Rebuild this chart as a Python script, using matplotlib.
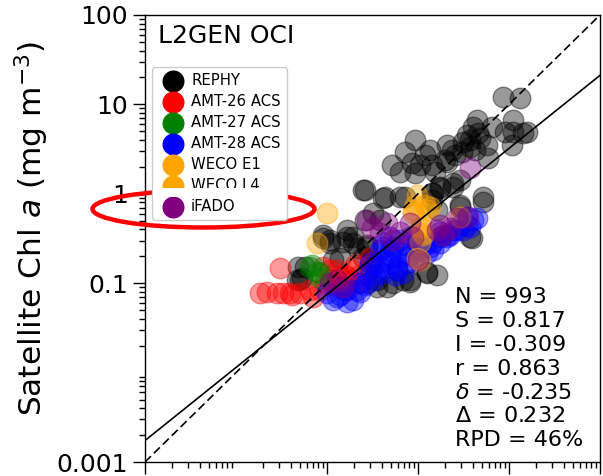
import math
import matplotlib
matplotlib.use("Agg")
import matplotlib.pyplot as plt
from matplotlib.patches import Ellipse, Rectangle

# ---------------- data (mg m^-3) ----------------
rephy_x = [8.59, 13.2, 11.1, 6.50, 9.04, 11.1, 14.3, 15.8, 4.02, 3.45, 4.80, 10.8, 0.927, 0.719, 1.36, 2.08,
           2.36, 3.73, 3.12, 4.23, 5.87, 0.859, 0.634, 0.927, 1.43, 1.54, 2.08, 2.55, 5.73, 4.45, 2.90, 2.43,
           1.75, 5.18, 0.434, 0.634,
           0.262, 0.412, 1.43, 1.75, 2.43, 2.90, 3.92, 1.62, 0.320, 0.382, 0.262, 0.166, 0.193, 0.0904, 0.150,
           0.108, 0.219, 0.275, 1.26, 1.62, 0.817, 0.587, 0.354, 0.0573, 0.0505,
           0.048, 0.0531, 0.0468, 0.0904, 0.108, 0.166, 0.193, 0.275, 0.116, 0.139, 0.249, 0.297, 0.275, 0.354,
           0.456, 0.531, 0.684,
           0.719, 1.46, 2.90, 5.18, 3.73, 1.75, 1.26, 0.817, 0.249, 0.518, 4.56, 3.73, 3.05, 1.98, 1.19, 1.05, 1.43]
rephy_y = [12.1, 11.8, 6.70, 5.59, 4.91, 4.91, 4.79, 4.91, 5.59, 4.55, 4.21, 3.51, 4.00, 2.94, 3.09, 3.51,
           3.09, 3.34, 3.80, 3.09, 2.51, 2.21, 1.75, 1.71, 2.10, 1.75, 2.27, 2.72, 3.51, 6.70, 1.43, 1.19,
           1.16, 0.921, 0.921, 0.921,
           1.10, 0.897, 1.02, 1.19, 1.32, 0.712, 0.321, 0.659, 0.610, 0.509, 0.509, 0.394, 0.329, 0.346, 0.289,
           0.282, 0.248, 0.254, 0.133, 0.124, 0.103, 0.141, 0.109, 0.152, 0.109,
           0.152, 0.114, 0.109, 0.321, 0.304, 0.329, 0.282, 0.268, 0.182, 0.191, 0.196, 0.152, 0.100, 0.0906,
           0.0906, 0.100, 0.109,
           0.921, 1.02, 0.750, 0.809, 0.329, 0.329, 0.130, 0.109, 1.10, 2.10, 4.79, 4.00, 2.94, 2.39, 2.72, 2.10, 0.853]

amt26_x = [0.0305, 0.0219, 0.0283, 0.0328, 0.0412, 0.0505, 0.065, 0.0702, 0.0904, 0.129, 0.166, 0.214, 0.108,
           0.139, 0.166, 0.0184, 0.0392, 0.108, 0.139, 0.170, 0.297, 0.0838, 0.095, 0.193, 0.231, 0.320,
           0.158, 0.122, 0.203]
amt26_y = [0.148, 0.0798, 0.0777, 0.0777, 0.0738, 0.0777, 0.0839, 0.0701, 0.152, 0.141, 0.117, 0.100, 0.109,
           0.0906, 0.0839, 0.0777, 0.0777, 0.141, 0.117, 0.109, 0.191, 0.0839, 0.100, 0.141, 0.124, 0.173,
           0.124, 0.0955, 0.160]

amt27_x = [0.0684, 0.0776, 0.0838, 0.065, 0.0838, 1.0]
amt27_y = [0.160, 0.133, 0.114, 0.152, 0.130, 0.282]

amt28_x = [4.02, 3.45, 2.69, 2.08, 1.46, 1.36, 1.05, 0.684, 0.492, 0.587, 0.412, 0.320, 0.275, 0.531, 0.412,
           0.492, 0.634, 0.817, 0.975, 0.382, 0.297, 0.412,
           0.1, 0.129, 0.166, 0.193, 0.116, 0.382, 0.492, 0.587, 0.634, 0.412,
           3.45, 3.73, 3.12, 2.43, 2.08, 1.75, 1.46, 1.26, 0.975, 0.757, 0.684,
           0.231, 0.158, 0.214, 0.262, 0.337, 0.817, 1.19, 2.25, 2.90, 4.45, 1.75,
           0.337, 0.492, 0.719, 0.558, 0.231, 0.139]
amt28_y = [0.509, 0.448, 0.394, 0.346, 0.289, 0.254, 0.235, 0.218, 0.196, 0.152, 0.130, 0.109, 0.130, 0.254,
           0.282, 0.329, 0.304, 0.329, 0.282, 0.235, 0.168, 0.182,
           0.0777, 0.0701, 0.0616, 0.0649, 0.0649, 0.152, 0.168, 0.141, 0.196, 0.254,
           0.550, 0.425, 0.394, 0.394, 0.329, 0.282, 0.235, 0.218, 0.196, 0.168, 0.130,
           0.100, 0.0839, 0.0839, 0.0955, 0.124, 0.207, 0.268, 0.346, 0.448, 0.536, 0.374,
           0.160, 0.235, 0.268, 0.124, 0.0798, 0.0738]

weco_e1_x = [0.1, 0.0776, 0.975, 0.927, 1.19, 1.26, 0.881, 1.11, 1.13]
weco_e1_y = [0.610, 0.282, 0.970, 0.750, 0.750, 0.659, 0.610, 0.425, 0.346]

weco_l4_x = [0.975, 1.36, 1.05, 1.13, 1.05, 1.05, 2.90, 0.881]
weco_l4_y = [0.191, 0.712, 0.425, 0.365, 0.289, 0.182, 0.550, 0.659]

ifado_x = [3.73, 0.275, 0.313, 0.382, 0.456, 0.634, 0.531, 0.817, 1.75, 2.69, 3.54, 1.62, 1.0, 0.129, 0.108,
           2.25, 1.88, 0.881, 0.150]
ifado_y = [1.94, 0.509, 0.414, 0.365, 0.471, 0.374, 0.304, 0.471, 0.448, 0.536, 0.550, 0.394, 0.182, 0.109,
           0.100, 0.414, 0.346, 0.329, 0.0906]

series_names = ["REPHY", "AMT-26 ACS", "AMT-27 ACS", "AMT-28 ACS", "WECO E1", "WECO L4", "iFADO"]
series_colors = ["black", "red", "green", "blue", "orange", "orange", "purple"]
series_x = [rephy_x, amt26_x, amt27_x, amt28_x, weco_e1_x, weco_l4_x, ifado_x]
series_y = [rephy_y, amt26_y, amt27_y, amt28_y, weco_e1_y, weco_l4_y, ifado_y]

slope = 0.817
intercept = -0.309
stats_lines = ["N = 993", "S = 0.817", "I = -0.309", "r = 0.863",
               r"$\delta$ = -0.235", r"$\Delta$ = 0.232", "RPD = 46%"]
ytick_vals = [0.001, 0.1, 1, 10, 100]
ytick_labels = ["0.001", "0.1", "1", "10", "100"]
xtick_vals = [0.001, 0.1, 1, 10, 100]
lims = [0.001, 100]

# ---------------- figure ----------------
W, H = 603, 476
fig = plt.figure(figsize=(W / 100, H / 100), dpi=100)
ax = fig.add_axes([145 / W, (H - 462) / H, 455 / W, 447 / H])
ax.set_xscale("log")
ax.set_yscale("log")
ax.set_xlim(lims)
ax.set_ylim(lims)

for xs, ys, c, n in zip(series_x, series_y, series_colors, series_names):
    ax.scatter(xs, ys, s=220, color=c, alpha=0.4, label=n, zorder=2)

ax.plot(lims, lims, color="black", lw=1.2, ls=(0, (5, 2.5)), zorder=3)
fit_y = [10 ** (slope * math.log10(v) + intercept) for v in lims]
ax.plot(lims, fit_y, color="black", lw=1.2, zorder=3)

ax.set_yticks(ytick_vals, labels=ytick_labels)
ax.set_xticks(xtick_vals)
ax.tick_params(axis="both", which="major", length=8.5, width=1.0, labelsize=18, direction="out")
ax.tick_params(axis="both", which="minor", length=4.5, width=1.0, direction="out")
ax.tick_params(axis="x", which="both", labelbottom=False)
for sp in ax.spines.values():
    sp.set_linewidth(1.0)

ax.set_ylabel(r"Satellite Chl $a$ (mg m$^{-3}$)", fontsize=22.5)
ax.yaxis.set_label_coords(-0.207, 0.522)

ax.text(13 / 455, (462 - 43) / 447, "L2GEN OCI", transform=ax.transAxes,
        fontsize=18, ha="left", va="baseline")

y0 = (462 - 303) / 447
step = 23.9 / 447
for i, s in enumerate(stats_lines):
    ax.text((455 - 145) / 455, y0 - i * step, s, transform=ax.transAxes,
            fontsize=16, ha="left", va="baseline")

leg = ax.legend(loc="upper left", bbox_to_anchor=(0.0, 0.9), fontsize=10.7,
                labelspacing=0.4, handletextpad=0.2, borderpad=0.4,
                framealpha=1.0, scatterpoints=1)
for h in leg.legend_handles:
    h.set_alpha(1.0)
leg.set_zorder(5)

# red highlight ellipse (behind the legend box)
ell = Ellipse((203.5 / W, (H - 209) / H), 222 / W, 37 / H, transform=fig.transFigure,
              fill=False, edgecolor="red", lw=3.2, zorder=4, clip_on=False)
ax.add_patch(ell)

# white band that hides the lower part of the WECO L4 row
band = Rectangle((153 / W, (H - 197) / H), 133 / W, 9 / H, transform=fig.transFigure,
                 facecolor="white", edgecolor="none", zorder=6, clip_on=False)
ax.add_patch(band)

fig.savefig("out.png", dpi=100)
